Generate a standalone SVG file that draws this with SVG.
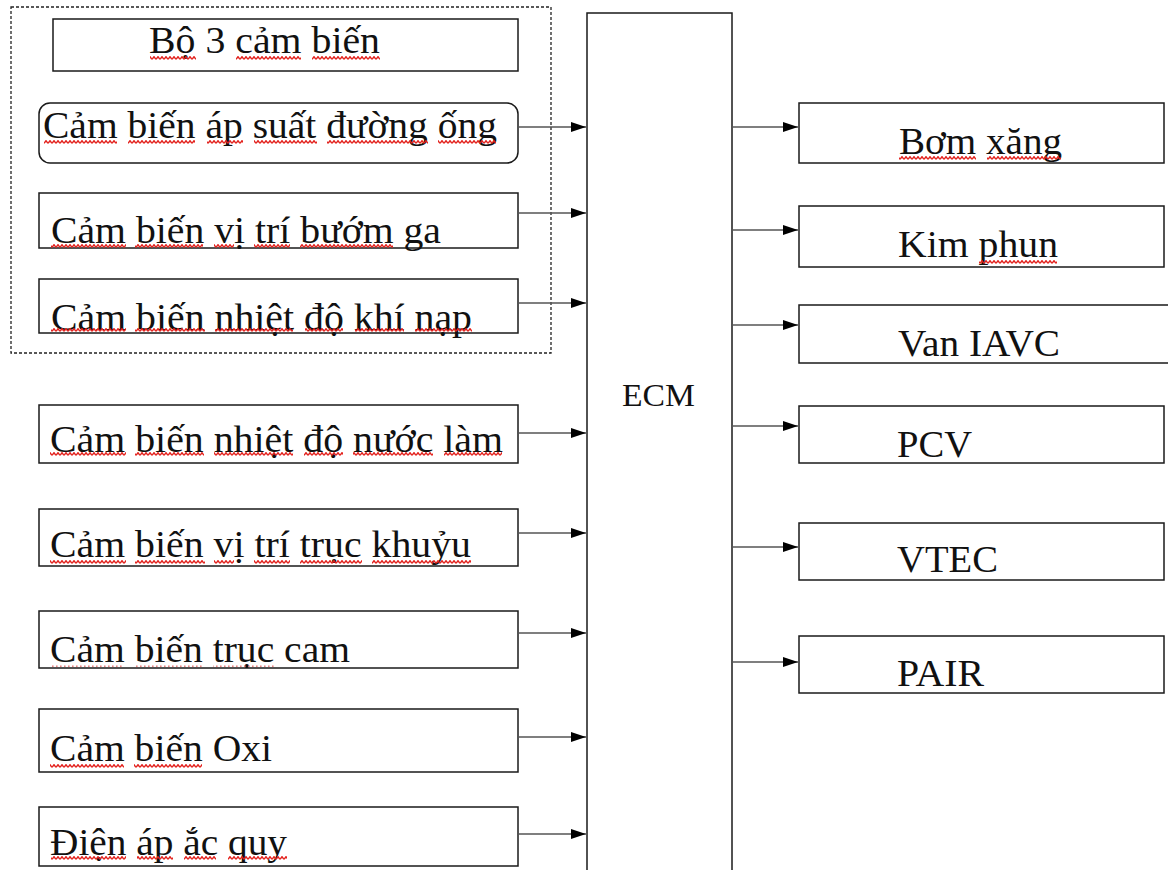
<svg xmlns="http://www.w3.org/2000/svg" width="1168" height="870" viewBox="0 0 1168 870">
  <style>
    .box { fill: #fff; stroke: #1a1a1a; stroke-width: 1.5; }
    .group { fill: none; stroke: #222; stroke-width: 1.3; stroke-dasharray: 3 2; }
    .wire { fill: none; stroke: #555; stroke-width: 1.4; marker-end: url(#arrow); }
    .lbl { font-family: "Liberation Serif", "Times New Roman", serif; font-size: 38px; fill: #111; }
    .ecm { font-family: "Liberation Serif", "Times New Roman", serif; font-size: 31px; fill: #111; }
    .sq { fill: url(#wave); }
    .dq { fill: url(#dots); }
  </style>
  <defs>
    <marker id="arrow" markerUnits="userSpaceOnUse" markerWidth="16" markerHeight="12" refX="15" refY="5" orient="auto">
      <path d="M0,0 L15,5 L0,10 z" fill="#000"/>
    </marker>
    <!-- spell-check squiggle under flagged words -->
    <pattern id="wave" patternUnits="userSpaceOnUse" width="4" height="4">
      <path d="M0,3.3 L2,0.7 L4,3.3" fill="none" stroke="#e3201b" stroke-width="1.4"/>
    </pattern>
    <pattern id="dots" patternUnits="userSpaceOnUse" width="4" height="4">
      <rect x="0" y="1.5" width="1.6" height="1.4" fill="#e67a78"/>
    </pattern>
  </defs>

  <rect width="1168" height="870" fill="#fff"/>

  <!-- dashed grouping of the three intake sensors -->
  <rect id="sensor-group" class="group" x="11" y="7" width="540" height="346"/>

  <g id="header">
    <rect class="box" x="53" y="19" width="465" height="52"/>
    <text class="lbl" x="149" y="53" textLength="231" lengthAdjust="spacingAndGlyphs">Bộ 3 cảm biến</text>
    <rect class="sq" x="150" y="56" width="46" height="4"/>
    <rect class="sq" x="236" y="56" width="65" height="4"/>
    <rect class="sq" x="312" y="56" width="68" height="4"/>
  </g>

  <g id="map-sensor">
    <rect class="box" x="39" y="103" width="479" height="60" rx="11" ry="11"/>
    <text class="lbl" x="43" y="138" textLength="454" lengthAdjust="spacingAndGlyphs">Cảm biến áp suất đường ống</text>
    <rect class="sq" x="44" y="140" width="73" height="4"/>
    <rect class="sq" x="128" y="140" width="67" height="4"/>
    <rect class="sq" x="207" y="140" width="36" height="4"/>
    <rect class="sq" x="254" y="140" width="63" height="4"/>
    <rect class="sq" x="327" y="140" width="101" height="4"/>
    <rect class="sq" x="438" y="140" width="58" height="4"/>
  </g>

  <g id="tps-sensor">
    <rect class="box" x="39" y="193" width="479" height="55"/>
    <text class="lbl" x="51" y="243" textLength="390" lengthAdjust="spacingAndGlyphs">Cảm biến vị trí bướm ga</text>
    <rect class="sq" x="51" y="244" width="75" height="4"/>
    <rect class="sq" x="135" y="244" width="68" height="4"/>
    <rect class="sq" x="214" y="244" width="20" height="4"/>
    <rect class="sq" x="254" y="244" width="36" height="4"/>
    <rect class="sq" x="300" y="244" width="93" height="4"/>
  </g>

  <g id="iat-sensor">
    <rect class="box" x="39" y="279" width="479" height="54"/>
    <text class="lbl" x="51" y="330" textLength="421" lengthAdjust="spacingAndGlyphs">Cảm biến nhiệt độ khí nạp</text>
    <rect class="sq" x="51" y="328" width="75" height="4"/>
    <rect class="sq" x="135" y="328" width="70" height="4"/>
    <rect class="sq" x="215" y="328" width="78" height="4"/>
    <rect class="sq" x="305" y="328" width="38" height="4"/>
    <rect class="sq" x="355" y="328" width="49" height="4"/>
    <rect class="sq" x="415" y="328" width="57" height="4"/>
  </g>

  <g id="ect-sensor">
    <rect class="box" x="39" y="405" width="479" height="58"/>
    <text class="lbl" x="50" y="452" textLength="453" lengthAdjust="spacingAndGlyphs">Cảm biến nhiệt độ nước làm</text>
    <rect class="sq" x="50" y="452" width="76" height="4"/>
    <rect class="sq" x="135" y="452" width="69" height="4"/>
    <rect class="sq" x="214" y="452" width="79" height="4"/>
    <rect class="sq" x="304" y="452" width="39" height="4"/>
    <rect class="sq" x="353" y="452" width="80" height="4"/>
    <rect class="sq" x="444" y="452" width="58" height="4"/>
  </g>

  <g id="ckp-sensor">
    <rect class="box" x="39" y="509" width="479" height="57"/>
    <text class="lbl" x="50" y="557" textLength="421" lengthAdjust="spacingAndGlyphs">Cảm biến vị trí trục khuỷu</text>
    <rect class="sq" x="50" y="560" width="76" height="4"/>
    <rect class="sq" x="135" y="560" width="70" height="4"/>
    <rect class="sq" x="214" y="560" width="20" height="4"/>
    <rect class="sq" x="254" y="560" width="36" height="4"/>
    <rect class="sq" x="300" y="560" width="62" height="4"/>
    <rect class="sq" x="372" y="560" width="99" height="4"/>
  </g>

  <g id="cmp-sensor">
    <rect class="box" x="39" y="611" width="479" height="57"/>
    <text class="lbl" x="50" y="662" textLength="300" lengthAdjust="spacingAndGlyphs">Cảm biến trục cam</text>
    <rect class="dq" x="50" y="664" width="74" height="4"/>
    <rect class="dq" x="134" y="664" width="68" height="4"/>
    <rect class="dq" x="213" y="664" width="61" height="4"/>
  </g>

  <g id="o2-sensor">
    <rect class="box" x="39" y="709" width="479" height="63"/>
    <text class="lbl" x="50" y="761" textLength="222" lengthAdjust="spacingAndGlyphs">Cảm biến Oxi</text>
    <rect class="sq" x="50" y="764" width="74" height="4"/>
    <rect class="sq" x="134" y="764" width="68" height="4"/>
  </g>

  <g id="battery">
    <rect class="box" x="39" y="807" width="479" height="59"/>
    <text class="lbl" x="50" y="855" textLength="237" lengthAdjust="spacingAndGlyphs">Điện áp ắc quy</text>
    <rect class="sq" x="51" y="856" width="75" height="4"/>
    <rect class="sq" x="137" y="856" width="36" height="4"/>
    <rect class="sq" x="184" y="856" width="32" height="4"/>
    <rect class="sq" x="228" y="856" width="59" height="4"/>
  </g>

  <g id="ecm">
    <rect class="box" x="587" y="13" width="145" height="880"/>
    <text class="ecm" x="622" y="406" textLength="73" lengthAdjust="spacingAndGlyphs">ECM</text>
  </g>

  <g id="fuel-pump">
    <rect class="box" x="799" y="103" width="365" height="60"/>
    <text class="lbl" x="899" y="154" textLength="163" lengthAdjust="spacingAndGlyphs">Bơm xăng</text>
    <rect class="sq" x="899" y="156" width="77" height="4"/>
    <rect class="sq" x="987" y="156" width="74" height="4"/>
  </g>

  <g id="injector">
    <rect class="box" x="799" y="206" width="365" height="61"/>
    <text class="lbl" x="898" y="257" textLength="160" lengthAdjust="spacingAndGlyphs">Kim phun</text>
    <rect class="sq" x="979" y="260" width="78" height="4"/>
  </g>

  <g id="iacv">
    <rect class="box" x="799" y="305" width="375" height="58"/>
    <text class="lbl" x="898" y="356" textLength="162" lengthAdjust="spacingAndGlyphs">Van IAVC</text>
  </g>

  <g id="pcv">
    <rect class="box" x="799" y="406" width="365" height="57"/>
    <text class="lbl" x="897" y="457" textLength="75" lengthAdjust="spacingAndGlyphs">PCV</text>
  </g>

  <g id="vtec">
    <rect class="box" x="799" y="523" width="365" height="57"/>
    <text class="lbl" x="897" y="572" textLength="101" lengthAdjust="spacingAndGlyphs">VTEC</text>
  </g>

  <g id="pair">
    <rect class="box" x="799" y="636" width="365" height="57"/>
    <text class="lbl" x="897" y="686" textLength="87" lengthAdjust="spacingAndGlyphs">PAIR</text>
  </g>

  <!-- signal lines: sensors into the ECM, ECM out to actuators -->
  <g id="connectors">
    <line class="wire" x1="518" y1="127" x2="586" y2="127"/>
    <line class="wire" x1="518" y1="213" x2="586" y2="213"/>
    <line class="wire" x1="518" y1="303" x2="586" y2="303"/>
    <line class="wire" x1="518" y1="433" x2="586" y2="433"/>
    <line class="wire" x1="518" y1="533" x2="586" y2="533"/>
    <line class="wire" x1="518" y1="633" x2="586" y2="633"/>
    <line class="wire" x1="518" y1="737" x2="586" y2="737"/>
    <line class="wire" x1="518" y1="834" x2="586" y2="834"/>

    <line class="wire" x1="732" y1="127" x2="798" y2="127"/>
    <line class="wire" x1="732" y1="230" x2="798" y2="230"/>
    <line class="wire" x1="732" y1="325" x2="798" y2="325"/>
    <line class="wire" x1="732" y1="426" x2="798" y2="426"/>
    <line class="wire" x1="732" y1="547" x2="798" y2="547"/>
    <line class="wire" x1="732" y1="662" x2="798" y2="662"/>
  </g>
</svg>
